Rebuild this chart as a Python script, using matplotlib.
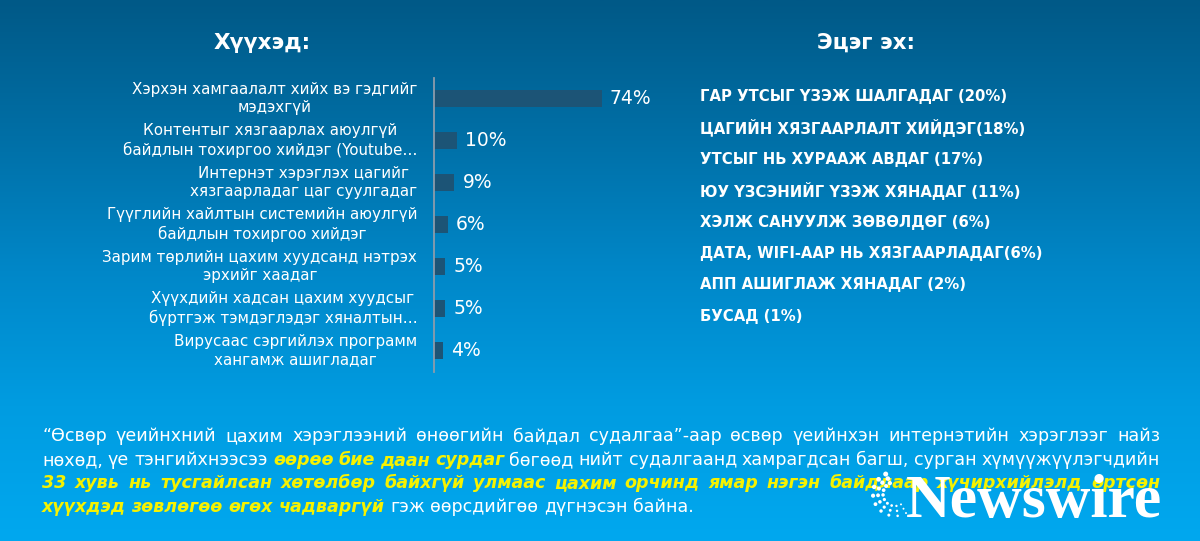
import matplotlib
matplotlib.use("Agg")
import matplotlib.pyplot as plt
import numpy as np
from matplotlib.colors import LinearSegmentedColormap

# ---------------- data ----------------
child_title = "Хүүхэд:"
parent_title = "Эцэг эх:"

child_labels = [
    "Хэрхэн хамгаалалт хийх вэ гэдгийг\nмэдэхгүй",
    "Контентыг хязгаарлах аюулгүй\nбайдлын тохиргоо хийдэг (Youtube…",
    "Интернэт хэрэглэх цагийг\nхязгаарладаг цаг суулгадаг",
    "Гүүглийн хайлтын системийн аюулгүй\nбайдлын тохиргоо хийдэг",
    "Зарим төрлийн цахим хуудсанд нэтрэх\nэрхийг хаадаг",
    "Хүүхдийн хадсан цахим хуудсыг\nбүртгэж тэмдэглэдэг хяналтын…",
    "Вирусаас сэргийлэх программ\nхангамж ашигладаг",
]
child_values = [74, 10, 9, 6, 5, 5, 4]

parent_labels = [
    "ГАР УТСЫГ ҮЗЭЖ ШАЛГАДАГ",
    "ЦАГИЙН ХЯЗГААРЛАЛТ ХИЙДЭГ",
    "УТСЫГ НЬ ХУРААЖ АВДАГ",
    "ЮУ ҮЗСЭНИЙГ ҮЗЭЖ ХЯНАДАГ",
    "ХЭЛЖ САНУУЛЖ ЗӨВӨЛДӨГ",
    "ДАТА, WIFI-ААР НЬ ХЯЗГААРЛАДАГ",
    "АПП АШИГЛАЖ ХЯНАДАГ",
    "БУСАД",
]
parent_values = [20, 18, 17, 11, 6, 6, 2, 1]
parent_seps = [" ", "", " ", " ", " ", "", " ", " "]

# paragraph: (text, highlighted?)
para_lines = [
    [("“Өсвөр үеийнхний цахим хэрэглээний өнөөгийн байдал судалгаа”-аар өсвөр үеийнхэн интернэтийн хэрэглээг найз", False)],
    [("нөхөд, үе тэнгийхнээсээ", False), ("өөрөө бие даан сурдаг", True),
     ("бөгөөд нийт судалгаанд хамрагдсан багш, сурган хүмүүжүүлэгчдийн", False)],
    [("33 хувь нь тусгайлсан хөтөлбөр байхгүй улмаас цахим орчинд ямар нэгэн байдлаар хүчирхийлэлд өртсөн", True)],
    [("хүүхдэд зөвлөгөө өгөх чадваргүй", True), ("гэж өөрсдийгөө дүгнэсэн байна.", False)],
]
logo_text = "Newswire"

# ---------------- figure ----------------
W, H = 1200, 541
SANS = ["DejaVu Sans"]
fig = plt.figure(figsize=(W / 100, H / 100), dpi=100)

bg = fig.add_axes([0, 0, 1, 1])
bg.set_xlim(0, W)
bg.set_ylim(H, 0)
bg.axis("off")
cmap = LinearSegmentedColormap.from_list(
    "bg", ["#005987", "#006fa6", "#0087c8", "#009ce1", "#00a8ef"])
grad = np.linspace(0, 1, 256).reshape(-1, 1)
bg.imshow(grad, cmap=cmap, extent=[0, W, H, 0], aspect="auto", zorder=0)

# titles
bg.text(262, 43, child_title, ha="center", va="center", fontsize=15.5,
        fontweight="bold", color="white", family=SANS, zorder=3)
bg.text(866, 43, parent_title, ha="center", va="center", fontsize=15.5,
        fontweight="bold", color="white", family=SANS, zorder=3)

# ---------------- bar chart ----------------
x0_px, top_px, row_px = 434, 77.5, 42.0
px_per_unit = 2.27
ax = fig.add_axes([x0_px / W, 1 - (top_px + row_px * 7) / H,
                   100 * px_per_unit / W, row_px * 7 / H])
ax.patch.set_alpha(0)
ypos = np.arange(len(child_values))
ax.barh(ypos, child_values, height=17 / row_px, color="#1c5476", zorder=2)
ax.set_xlim(0, 100)
ax.set_ylim(len(child_values) - 0.5, -0.5)
ax.set_xticks([])
ax.set_yticks(ypos)
ax.set_yticklabels(child_labels, fontsize=10.9, color="white", family=SANS)
for lbl in ax.get_yticklabels():
    lbl.set_multialignment("center")
    lbl.set_linespacing(1.3)
    lbl.set_verticalalignment("center")
ax.tick_params(axis="y", length=0, pad=12)
for s in ["top", "right", "bottom"]:
    ax.spines[s].set_visible(False)
ax.spines["left"].set_color("#8c9cab")
ax.spines["left"].set_linewidth(1.3)
for i, v in enumerate(child_values):
    ax.annotate(f"{v}%", xy=(v, i), xytext=(8, 0), textcoords="offset pixels",
                ha="left", va="center", fontsize=13.5, color="white", family=SANS)

# ---------------- parent list ----------------
for i, (lab, v, sep) in enumerate(zip(parent_labels, parent_values, parent_seps)):
    bg.text(700, 97 + i * 31.3, f"{lab}{sep}({v}%)", ha="left", va="center",
            fontsize=10.7, fontweight="bold", color="white", family=SANS, zorder=3)

# ---------------- paragraph (justified) ----------------
fig.canvas.draw()
renderer = fig.canvas.get_renderer()
styles = {
    False: dict(color="white", fontsize=12.6, family=SANS),
    True: dict(color="#f6f200", fontsize=12.6, family=SANS, fontweight="bold", fontstyle="italic"),
}


def measure(s, st):
    t = bg.text(0, 0, s, **styles[st])
    w = t.get_window_extent(renderer).width
    t.remove()
    return w


space_w = measure("x x", False) - measure("xx", False)
left_px, right_px = 42, 1160
line_base = [441, 465, 488, 512]
for li, line in enumerate(para_lines):
    words = [(w, st) for seg, st in line for w in seg.split()]
    widths = [measure(w, st) for w, st in words]
    last = li == len(para_lines) - 1
    if last or len(words) < 2:
        gap = space_w
    else:
        gap = (right_px - left_px - sum(widths)) / (len(words) - 1)
    x = left_px
    for (w, st), wd in zip(words, widths):
        bg.text(x, line_base[li], w, ha="left", va="baseline", zorder=3, **styles[st])
        x += wd + gap

# ---------------- logo ----------------
bg.text(906, 517, logo_text, ha="left", va="baseline", fontsize=44.5,
        fontweight="bold", family=["Liberation Serif"], color="white", zorder=5)
cx, cy = 895, 494
for r, s0 in [(12, 9), (17, 11), (22, 13)]:
    ang = np.deg2rad(np.linspace(115, 300, 9))
    sizes = np.linspace(s0, 2, 9)
    bg.scatter(cx + r * np.cos(ang), cy - r * np.sin(ang), s=sizes, color="white",
               linewidths=0, zorder=5)

fig.savefig("out.png", dpi=100)
